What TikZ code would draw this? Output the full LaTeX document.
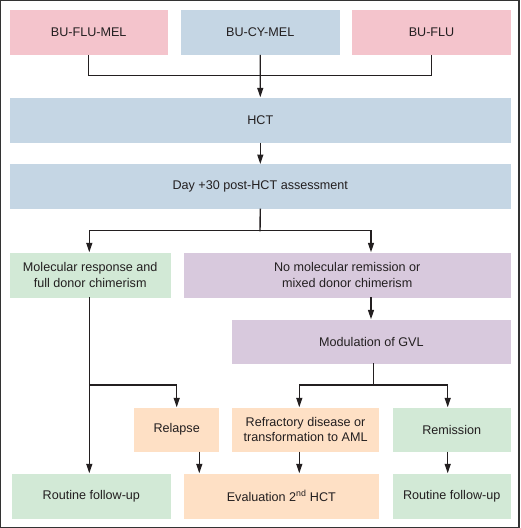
\documentclass[tikz,border=0pt]{standalone}
\usepackage{fontspec}
\setmainfont{Liberation Sans}
\usetikzlibrary{arrows.meta}
\definecolor{cpink}{HTML}{F4C4CC}
\definecolor{cblue}{HTML}{C5D6E4}
\definecolor{cgreen}{HTML}{D2E9D6}
\definecolor{cpurple}{HTML}{D8C9DD}
\definecolor{corange}{HTML}{FEE0C5}
\definecolor{ctext}{HTML}{231F20}
\begin{document}
\begin{tikzpicture}[x=1pt,y=-1pt,
  box/.style={anchor=north west, inner sep=0pt, align=center, text=ctext,
    font=\fontsize{12.6}{15.3}\selectfont},
  conn/.style={line width=1.4pt, draw=ctext},
  arr/.style={conn, -{Triangle[length=9.5pt,width=6pt]}}]
\useasboundingbox (0,0) rectangle (520,528);
\draw[line width=1.4pt, draw=black!80] (0.7,0.7) rectangle (519,527.3);
% top row
\node[box, fill=cpink, minimum width=158pt, minimum height=45pt] (f1) at (9.5,9.5) {BU-FLU-MEL};
\node[box, fill=cblue, minimum width=158.6pt, minimum height=45pt] (f2) at (180.7,9.5) {BU-CY-MEL};
\node[box, fill=cpink, minimum width=158.7pt, minimum height=45pt] (f3) at (352,9.5) {BU-FLU};
\node[box, fill=cblue, minimum width=501.2pt, minimum height=45pt] (hct) at (9.5,97.3) {HCT};
\node[box, fill=cblue, minimum width=501.2pt, minimum height=45pt] (day) at (9.5,164) {Day +30 post-HCT assessment};
\node[box, fill=cgreen, minimum width=161pt, minimum height=45pt] (mr) at (9.5,252.3) {Molecular response and\\full donor chimerism};
\node[box, fill=cpurple, minimum width=327.4pt, minimum height=45pt] (nmr) at (183.3,252.3) {No molecular remission or\\mixed donor chimerism};
\node[box, fill=cpurple, minimum width=279pt, minimum height=44pt] (mod) at (231.7,319.3) {Modulation of GVL};
\node[box, fill=corange, minimum width=85pt, minimum height=44.4pt] (rel) at (134,407.3) {Relapse};
\node[box, fill=corange, minimum width=147.3pt, minimum height=44.4pt] (ref) at (231.7,407.3) {Refractory disease or\\transformation to AML};
\node[box, fill=cgreen, minimum width=118.4pt, minimum height=44.4pt] (rem) at (392.3,407.3) {Remission};
\node[box, fill=cgreen, minimum width=158.3pt, minimum height=45pt] (rf1) at (12,473.3) {Routine follow-up};
\node[box, fill=corange, minimum width=195.7pt, minimum height=45pt] (eval) at (183.3,473.3) {Evaluation 2\textsuperscript{nd} HCT};
\node[box, fill=cgreen, minimum width=118.4pt, minimum height=45pt] (rf2) at (392.3,473.3) {Routine follow-up};
% junction coordinates
\coordinate (j1) at (260,75.7);
\coordinate (j2) at (260,230.7);
\coordinate (j3) at (373.3,385);
\coordinate (j4) at (89.3,385);
% connectors
\draw[conn] (f1.south) |- (j1) -| (f3.south);
\draw[arr] (f2.south) -- (hct.north);
\draw[arr] (hct.south) -- (day.north);
\draw[conn, line cap=rect] (day.south) -- (j2);
\draw[arr] (j2) -| (89.3,252.3);
\draw[arr] (j2) -| (371,252.3);
\draw[arr] (371,297.3) -- (371,319.3);
\draw[conn, line cap=rect] (j3 |- mod.south) -- (j3);
\draw[arr] (j3) -| (299.3,407.3);
\draw[arr] (j3) -| (447.7,407.3);
\draw[arr] (89.3,297.3) -- (89.3,473.3);
\draw[arr] (j4) -| (rel.north);
\draw[arr] (199.3,451.7) -- (199.3,473.3);
\draw[arr] (299.3,451.7) -- (299.3,473.3);
\draw[arr] (447.7,451.7) -- (447.7,473.3);
\end{tikzpicture}
\end{document}
